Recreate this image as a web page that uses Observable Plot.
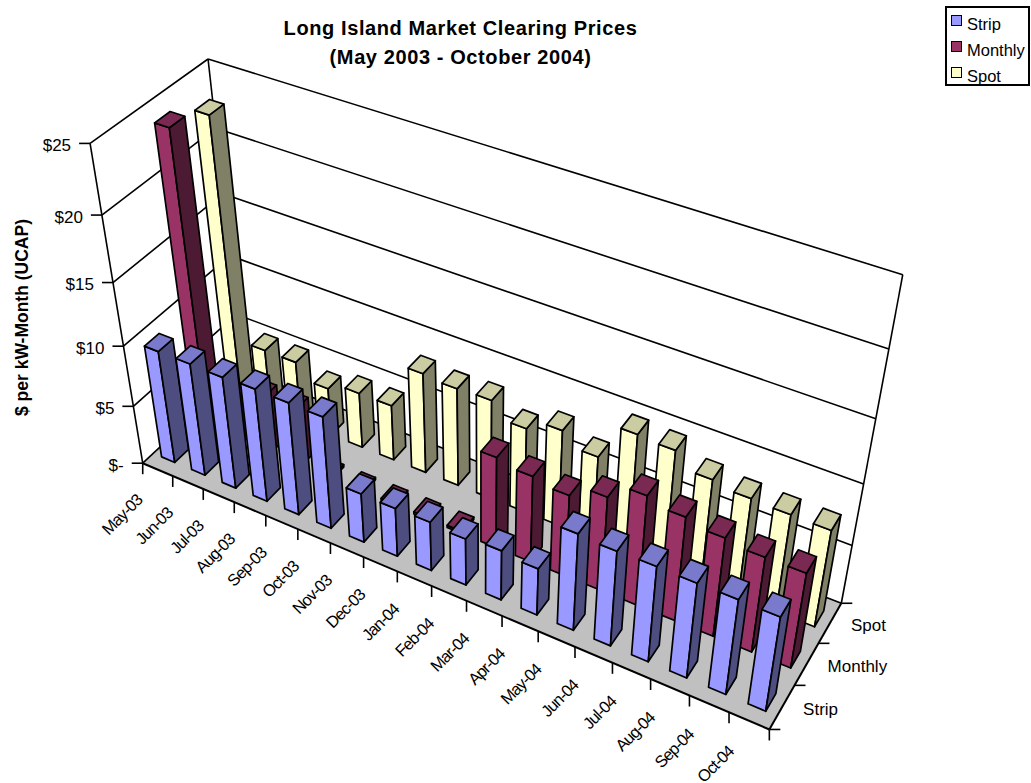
<!DOCTYPE html>
<html>
<head>
<meta charset="utf-8">
<script src="https://cdn.jsdelivr.net/npm/d3@7"></script>
<script src="https://cdn.jsdelivr.net/npm/@observablehq/plot@0.6"></script>
<style>
  html, body { margin: 0; padding: 0; background: #fff; overflow: hidden; }
  #page { position: relative; width: 1031px; height: 783px; font-family: "Liberation Sans", Arial, sans-serif; color: #000; }
  #title { position: absolute; left: 0; top: 14px; width: 921px; text-align: center; font-weight: bold; font-size: 20px; line-height: 29px; letter-spacing: 0.6px; }
  #legend { position: absolute; left: 945px; top: 6px; width: 85px; height: 80px; box-sizing: border-box; border: 2px solid #000; font-size: 16.5px; }
  .row { position: absolute; left: 20px; line-height: 18px; }
  .sw { position: absolute; left: 4px; width: 11px; height: 11px; box-sizing: border-box; border: 1.5px solid #000; }
  .month-label text { letter-spacing: -1px; }
</style>
</head>
<body>
<div id="page">
  <div id="title">Long Island Market Clearing Prices<br>(May 2003 - October 2004)</div>
  <div id="legend"></div>
</div>
<script>
const months = ["May-03","Jun-03","Jul-03","Aug-03","Sep-03","Oct-03","Nov-03","Dec-03","Jan-04","Feb-04","Mar-04","Apr-04","May-04","Jun-04","Jul-04","Aug-04","Sep-04","Oct-04"];
const seriesNames = ["Strip","Monthly","Spot"];
const strip   = [9.5,9.5,9.45,9.55,9.5,9.45,4.2,4.15,4.2,4.0,4.25,4.0,8.15,8.0,8.05,8.0,8.0,7.95];
const monthly = [24,3.5,5,5,0.2,0.2,0.2,0.2,0.2,7.7,7.3,6.9,7.95,9.25,8.75,8.3,8.0,8.0];
const spot    = [22.9,5.35,5.35,4.1,4.75,4.75,8.5,8.3,8.4,7.15,8.1,7.05,10,9.85,8.65,8.3,8.2,8.15];
const valueTicks = [0,5,10,15,20,25];
const valueLabels = ["$-","$5","$10","$15","$20","$25"];

const frontColors = ["#9999ff","#993366","#ffffcc"];
const sideColors  = ["#4d4d80","#4d1a33","#808066"];
const topColors   = ["#7a7acc","#7a2952","#ccccA3"];

// Perspective camera for (month position, row position, dollar value) in plot units
const cam = [28.6380,38.4720,-2.58678,142.219, 8.93809,-23.1152,-13.5597,462.706, -0.00803106,0.0213549,-0.00537311];
const project = (t,d,z) => {
  const w = cam[8]*t + cam[9]*d + cam[10]*z + 1;
  return [(cam[0]*t + cam[1]*d + cam[2]*z + cam[3]) / w, (cam[4]*t + cam[5]*d + cam[6]*z + cam[7]) / w];
};

const nT = months.length, nD = seriesNames.length;
const barW = 0.44, barD = 0.4;

// Faces of every column, far row first and left to right within a row
const faces = [];
const addFace = (id, color, corners) => {
  for (const c of [...corners, corners[0]]) {
    const [x,y] = project(...c);
    faces.push({id, color, x, y});
  }
};
[spot, monthly, strip].forEach((values, k) => {
  const row = 2 - k;
  values.forEach((v, i) => {
    const t0 = i + 0.5 - barW/2, t1 = i + 0.5 + barW/2;
    const d0 = row + 0.5 - barD/2, d1 = row + 0.5 + barD/2;
    addFace(`f${row}-${i}`, frontColors[row], [[t0,d0,0],[t1,d0,0],[t1,d0,v],[t0,d0,v]]);
    addFace(`s${row}-${i}`, sideColors[row], [[t1,d0,0],[t1,d1,0],[t1,d1,v],[t1,d0,v]]);
    addFace(`t${row}-${i}`, topColors[row], [[t0,d0,v],[t1,d0,v],[t1,d1,v],[t0,d1,v]]);
  });
});

const floor = [[0,0,0],[nT,0,0],[nT,nD,0],[0,nD,0],[0,0,0]].map(c => { const [x,y]=project(...c); return {x,y}; });

const seg = (a,b) => { const [x1,y1]=project(...a), [x2,y2]=project(...b); return {x1,y1,x2,y2}; };
const wallLines = [
  ...valueTicks.flatMap(v => [seg([0,0,v],[0,nD,v]), seg([0,nD,v],[nT,nD,v])]),
  seg([0,0,0],[0,0,25]), seg([0,nD,0],[0,nD,25]), seg([nT,nD,0],[nT,nD,25])
];
const tickLen = 11;
const valueTickLines = valueTicks.map((v,i) => { const [x,y]=project(0,0,v); return {x1:x-tickLen,y1:y,x2:x,y2:y,label:valueLabels[i]}; });
const monthTickLines = d3.range(nT+1).map(i => { const [x,y]=project(i,0,0); return {x1:x,y1:y,x2:x,y2:y+tickLen}; });
const rowTickLines = d3.range(nD+1).map(i => { const [x,y]=project(nT,i,0); return {x1:x,y1:y,x2:x+tickLen,y2:y}; });
const monthLabels = months.map((m,i) => { const [x,y]=project(i+0.5,0,0); return {x,y,m}; });
const rowLabels = seriesNames.map((s,i) => { const [x,y]=project(nT,i+0.5,0); return {x,y,s}; });

const chart = Plot.plot({
  width: 1031, height: 783, margin: 0,
  x: {domain:[0,1031], range:[0,1031], axis:null},
  y: {domain:[0,783], range:[0,783], axis:null},
  color: {type:"identity"},
  style: {fontFamily:'"Liberation Sans", Arial, sans-serif', background:"transparent", color:"#000", overflow:"visible"},
  marks: [
    Plot.line(floor, {x:"x", y:"y", fill:"#c0c0c0", stroke:"none"}),
    Plot.link(wallLines, {x1:"x1",y1:"y1",x2:"x2",y2:"y2", stroke:"#000", strokeWidth:1.6}),
    Plot.link([seg([0,0,0],[nT,0,0]), seg([nT,0,0],[nT,nD,0])], {x1:"x1",y1:"y1",x2:"x2",y2:"y2", stroke:"#000", strokeWidth:2}),
    Plot.link(valueTickLines, {x1:"x1",y1:"y1",x2:"x2",y2:"y2", stroke:"#000", strokeWidth:1.6}),
    Plot.link(monthTickLines, {x1:"x1",y1:"y1",x2:"x2",y2:"y2", stroke:"#000", strokeWidth:1.6}),
    Plot.link(rowTickLines, {x1:"x1",y1:"y1",x2:"x2",y2:"y2", stroke:"#000", strokeWidth:1.6}),
    Plot.line(faces, {x:"x", y:"y", z:"id", fill:"color", stroke:"#000", strokeWidth:1.7}),
    Plot.text(valueTickLines, {x:"x1", y:"y1", text:"label", textAnchor:"end", dx:-8, dy:2, fontSize:17, fill:"#000"}),
    Plot.text(monthLabels, {x:"x", y:"y", text:"m", textAnchor:"end", rotate:-45, dx:-18, dy:28, fontSize:16.5, fill:"#000", className:"month-label"}),
    Plot.text(rowLabels, {x:"x", y:"y", text:"s", textAnchor:"start", dx:21, dy:2, fontSize:17, fill:"#000"}),
    Plot.text(["$ per kW-Month (UCAP)"], {x:()=>22, y:()=>317, text:d=>d, rotate:-90, fontSize:17.5, fontWeight:"bold", fill:"#000"})
  ]
});
document.getElementById("page").prepend(chart);
chart.style.position = "absolute"; chart.style.left = "0"; chart.style.top = "0";

const legend = document.getElementById("legend");
seriesNames.forEach((s,i) => {
  const top = 7 + i*26;
  legend.insertAdjacentHTML("beforeend", `<div class="sw" style="top:${top}px;background:${frontColors[i]}"></div><div class="row" style="top:${top}px">${s}</div>`);
});
</script>
</body>
</html>
